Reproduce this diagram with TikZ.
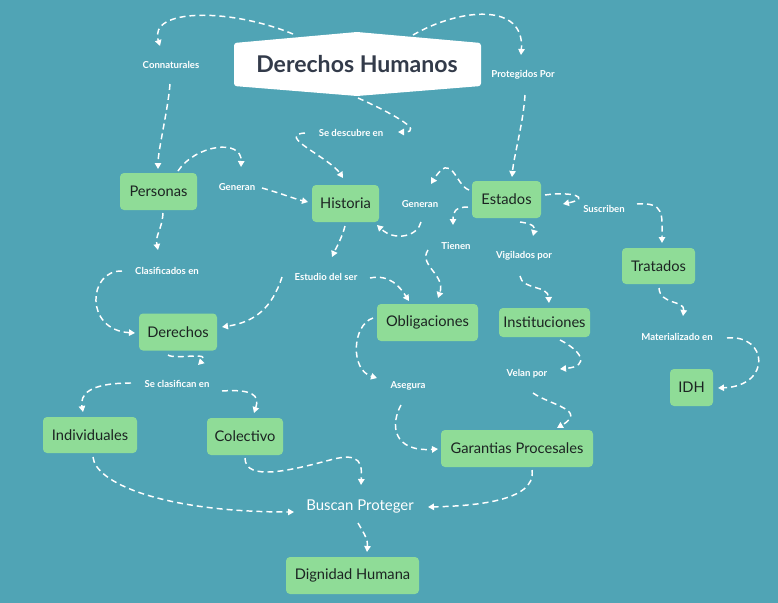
\documentclass[tikz,border=0pt]{standalone}
\usepackage{fontspec}
\setmainfont{Lato}
\usetikzlibrary{arrows.meta}
\definecolor{bg}{RGB}{80,164,181}
\definecolor{boxg}{RGB}{143,220,151}
\definecolor{boxtxt}{RGB}{28,36,34}
\definecolor{titletxt}{RGB}{51,59,74}
\tikzset{
  box/.style={fill=boxg, rounded corners=3pt, text=boxtxt, font=\fontsize{11}{13}\selectfont, inner sep=0pt, align=center},
  lbl/.style={text=white, font=\bfseries\fontsize{7.2}{8}\selectfont, inner sep=1pt},
  conn/.style={white, line width=1.1pt, dash pattern=on 4.5pt off 3pt, -{Triangle[length=4.5pt,width=4.8pt]}}
}
\begin{document}
\begin{tikzpicture}[x=0.75pt,y=-0.75pt]
\useasboundingbox (0,0) rectangle (778,603);
\fill[bg] (0,0) rectangle (778,603);
% title shape
\fill[white, rounded corners=2pt] (234,43) -- (357,32) -- (481,43) -- (481,86) -- (357,96) -- (234,86) -- cycle;
\node[text=titletxt, font=\bfseries\fontsize{17.3}{19}\selectfont, minimum width={248*0.75pt}, minimum height={64*0.75pt}] (DH) at (357,64) {Derechos Humanos};
% boxes
\node[box, minimum width={77*0.75pt}, minimum height={37*0.75pt}] (per) at (158.5,191.5) {Personas};
\node[box, minimum width={67*0.75pt}, minimum height={37*0.75pt}] (his) at (345.5,203.5) {Historia};
\node[box, minimum width={78*0.75pt}, minimum height={37*0.75pt}] (der) at (178,332) {Derechos};
\node[box, minimum width={69*0.75pt}, minimum height={37*0.75pt}] (est) at (506.5,199.5) {Estados};
\node[box, minimum width={73*0.75pt}, minimum height={36*0.75pt}] (tra) at (658.5,266) {Tratados};
\node[box, minimum width={101*0.75pt}, minimum height={37*0.75pt}] (obl) at (427.5,322.5) {Obligaciones};
\node[box, minimum width={91*0.75pt}, minimum height={29*0.75pt}] (ins) at (544.5,322.5) {Instituciones};
\node[box, minimum width={43*0.75pt}, minimum height={37*0.75pt}] (idh) at (691.5,387.5) {IDH};
\node[box, minimum width={152*0.75pt}, minimum height={37*0.75pt}] (gar) at (517,448.5) {Garantias Procesales};
\node[box, minimum width={94*0.75pt}, minimum height={36*0.75pt}] (ind) at (90,435) {Individuales};
\node[box, minimum width={76*0.75pt}, minimum height={37*0.75pt}] (col) at (245,436.5) {Colectivo};
\node[box, minimum width={133*0.75pt}, minimum height={37*0.75pt}] (dig) at (352.5,575.5) {Dignidad Humana};
% labels
\node[lbl] (con) at (171,65) {Connaturales};
\node[lbl] (pro) at (523,75) {Protegidos Por};
\node[lbl] (des) at (351,133) {Se descubre en};
\node[lbl] (gen1) at (237,187) {Generan};
\node[lbl] (gen2) at (420,204) {Generan};
\node[lbl] (sus) at (604,209) {Suscriben};
\node[lbl] (tie) at (456,246) {Tienen};
\node[lbl] (vig) at (524,256) {Vigilados por};
\node[lbl] (cla) at (167,271) {Clasificados en};
\node[lbl] (estu) at (326,277) {Estudio del ser};
\node[lbl] (mat) at (677,337) {Materializado en};
\node[lbl] (vel) at (527,374) {Velan por};
\node[lbl] (sec) at (177,384) {Se clasifican en};
\node[lbl] (ase) at (408,386) {Asegura};
\node[text=white, font=\fontsize{11.2}{13}\selectfont, inner sep=1pt] (bus) at (360,507) {Buscan Proteger};
% connectors
\draw[conn] ([shift={(-64,-30)}]DH.center) .. controls (230,8) and (148,8) .. ([shift={(-11,-19)}]con.center);
\draw[conn] ([shift={(-1,19)}]con.center) .. controls (168,110) and (158,150) .. ([shift={(-0.5,-22.5)}]per.center);
\draw[conn] ([shift={(56,-29)}]DH.center) .. controls (460,8) and (525,2) .. ([shift={(-2,-20)}]pro.center);
\draw[conn] ([shift={(2,20)}]pro.center) .. controls (523,125) and (514,155) .. ([shift={(5.5,-22.5)}]est.center);
\draw[conn] ([shift={(1,34)}]DH.center) .. controls (385,110) and (428,132) .. ([shift={(47,-1)}]des.center);
\draw[conn] ([shift={(-46,0)}]des.center) .. controls (275,135) and (330,158) .. ([shift={(-2.5,-25.5)}]his.center);
\draw[conn] ([shift={(19.5,-20.5)}]per.center) .. controls (195,145) and (242,138) .. ([shift={(4,-20)}]gen1.center);
\draw[conn] ([shift={(25,1)}]gen1.center) .. controls (280,193) and (295,199) .. ([shift={(-37.5,-1.5)}]his.center);
\draw[conn] ([shift={(-37.5,-9.5)}]est.center) .. controls (455,185) and (452,150) .. ([shift={(11,-20)}]gen2.center);
\draw[conn] ([shift={(1,18)}]gen2.center) .. controls (418,236) and (395,242) .. ([shift={(31.5,21.5)}]his.center);
\draw[conn] ([shift={(-0.5,22.5)}]his.center) .. controls (342,238) and (336,248) .. ([shift={(6,-20)}]estu.center);
\draw[conn] ([shift={(-44,0)}]estu.center) .. controls (272,308) and (255,322) .. ([shift={(44,-5)}]der.center);
\draw[conn] ([shift={(44,1)}]estu.center) .. controls (390,274) and (400,287) .. ([shift={(-18.5,-21.5)}]obl.center);
\draw[conn] ([shift={(4.5,21.5)}]per.center) .. controls (162,230) and (155,235) .. ([shift={(-9,-21)}]cla.center);
\draw[conn] ([shift={(-45,0)}]cla.center) .. controls (88,270) and (84,330) .. ([shift={(-43,1)}]der.center);
\draw[conn] ([shift={(38.5,-4.5)}]est.center) .. controls (572,191) and (592,198) .. ([shift={(-41,-5)}]sus.center);
\draw[conn] ([shift={(33,-5)}]sus.center) .. controls (665,202) and (662,215) .. ([shift={(3.5,-23)}]tra.center);
\draw[conn] ([shift={(-38.5,7.5)}]est.center) .. controls (455,207) and (453,212) .. ([shift={(-3,-21)}]tie.center);
\draw[conn] ([shift={(-28,4)}]tie.center) .. controls (418,265) and (446,275) .. ([shift={(10.5,-24.5)}]obl.center);
\draw[conn] ([shift={(13.5,22.5)}]est.center) .. controls (535,224) and (535,228) .. ([shift={(9,-20)}]vig.center);
\draw[conn] ([shift={(-4,20)}]vig.center) .. controls (522,290) and (548,285) .. ([shift={(4.5,-19.5)}]ins.center);
\draw[conn] ([shift={(0.5,22)}]tra.center) .. controls (660,305) and (685,300) .. ([shift={(6,-21)}]mat.center);
\draw[conn] ([shift={(50,1)}]mat.center) .. controls (768,334) and (772,386) .. ([shift={(26.5,0.5)}]idh.center);
\draw[conn] ([shift={(15.5,17.5)}]ins.center) .. controls (580,350) and (592,366) .. ([shift={(33,-5)}]vel.center);
\draw[conn] ([shift={(6,19)}]vel.center) .. controls (550,405) and (588,410) .. ([shift={(40,-20.5)}]gar.center);
\draw[conn] ([shift={(-54.5,-4.5)}]obl.center) .. controls (352,325) and (350,370) .. ([shift={(-31,-8)}]ase.center);
\draw[conn] ([shift={(-7,19)}]ase.center) .. controls (390,425) and (393,452) .. ([shift={(-79,0.5)}]gar.center);
\draw[conn] ([shift={(15,21.5)}]gar.center) .. controls (537,502) and (470,506) .. ([shift={(68,0)}]bus.center);
\draw[conn] ([shift={(-10,23)}]der.center) .. controls (175,360) and (212,351) .. ([shift={(21,-19)}]sec.center);
\draw[conn] ([shift={(-46,-1)}]sec.center) .. controls (88,383) and (80,395) .. ([shift={(-7,-23)}]ind.center);
\draw[conn] ([shift={(45,7)}]sec.center) .. controls (252,389) and (260,395) .. ([shift={(9,-23.5)}]col.center);
\draw[conn] ([shift={(3,22)}]ind.center) .. controls (95,482) and (160,512) .. ([shift={(-66,5)}]bus.center);
\draw[conn] ([shift={(0,21.5)}]col.center) .. controls (245,482) and (292,470) .. (330,460) .. controls (362,451) and (362,465) .. ([shift={(1,-22)}]bus.center);
\draw[conn] ([shift={(-2,16)}]bus.center) .. controls (365,535) and (368,540) .. ([shift={(14.5,-23.5)}]dig.center);
\end{tikzpicture}
\end{document}
